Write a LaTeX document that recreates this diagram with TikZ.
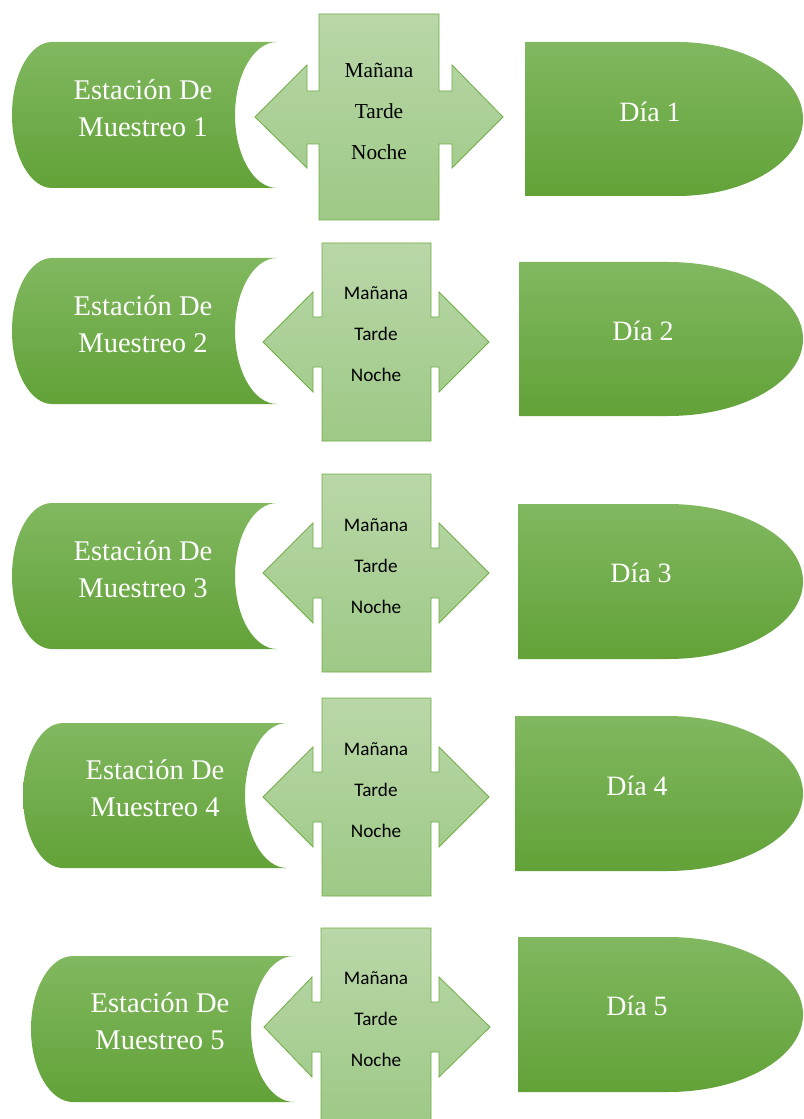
\documentclass[tikz,border=0pt]{standalone}
\usepackage{fontspec}
\setmainfont{Liberation Serif}
\newfontfamily\calibri{Carlito}
\definecolor{verdeA}{RGB}{129,184,96}
\definecolor{verdeB}{RGB}{98,162,56}
\definecolor{cruzA}{RGB}{185,215,168}
\definecolor{cruzB}{RGB}{158,201,134}
\definecolor{cruzLinea}{RGB}{112,173,71}
\begin{document}
\begin{tikzpicture}[
    x=0.75pt,
    y=-0.75pt,
    forma/.style={top color=verdeA, bottom color=verdeB, draw=none},
    cruz/.style={top color=cruzA, bottom color=cruzB, draw=cruzLinea, line width=0.6pt, line join=miter},
    esttxt/.style={text=white, align=center, font=\fontsize{21.4}{27.4}\selectfont},
    diatxt/.style={text=white, font=\fontsize{21}{25}\selectfont},
    turnotxt/.style={align=center, font=\calibri\fontsize{14.4}{30.75}\selectfont},
    turnotxtA/.style={align=center, font=\fontsize{16}{30.75}\selectfont}
]
\useasboundingbox (0,0) rectangle (803,1119);

% fila 1
\path[forma] (52,42) -- (277,42) arc[start angle=270, end angle=90, x radius=42, y radius=73]
    -- (52,188) arc[start angle=90, end angle=270, x radius=40, y radius=73] -- cycle;
\path[cruz] (255,117) -- ++(52,-52) -- ++(0,26) -- ++(12,0) -- ++(0,-77) -- ++(120,0) -- ++(0,77)
    -- ++(13,0) -- ++(0,-26) -- ++(51,52) -- ++(-51,51) -- ++(0,-24) -- ++(-13,0) -- ++(0,76)
    -- ++(-120,0) -- ++(0,-76) -- ++(-12,0) -- ++(0,24) -- cycle;
\path[forma] (525,42) -- (677,42) arc[start angle=270, end angle=450, x radius=126, y radius=77]
    -- (525,196) -- cycle;
\node[esttxt] (est1) at (143,108) {Estación De\\Muestreo 1};
\node[turnotxtA] (turno1) at (379,111) {Mañana\\Tarde\\Noche};
\node[diatxt] (dia1) at (650,112) {Día 1};

% fila 2
\path[forma] (52,258) -- (277,258) arc[start angle=270, end angle=90, x radius=42, y radius=73]
    -- (52,404) arc[start angle=90, end angle=270, x radius=40, y radius=73] -- cycle;
\path[cruz] (263,342) -- ++(50,-50) -- ++(0,25) -- ++(9,0) -- ++(0,-74) -- ++(109,0) -- ++(0,74)
    -- ++(8,0) -- ++(0,-25) -- ++(50,50) -- ++(-50,50) -- ++(0,-25) -- ++(-8,0) -- ++(0,74)
    -- ++(-109,0) -- ++(0,-74) -- ++(-9,0) -- ++(0,25) -- cycle;
\path[forma] (519,262) -- (668,262) arc[start angle=270, end angle=450, x radius=135, y radius=77]
    -- (519,416) -- cycle;
\node[esttxt] (est2) at (143,324) {Estación De\\Muestreo 2};
\node[turnotxt] (turno2) at (376,334) {Mañana\\Tarde\\Noche};
\node[diatxt] (dia2) at (643,331) {Día 2};

% fila 3
\path[forma] (52,503) -- (277,503) arc[start angle=270, end angle=90, x radius=42, y radius=73]
    -- (52,649) arc[start angle=90, end angle=270, x radius=40, y radius=73] -- cycle;
\path[cruz] (263,573) -- ++(50,-50) -- ++(0,25) -- ++(9,0) -- ++(0,-74) -- ++(109,0) -- ++(0,74)
    -- ++(8,0) -- ++(0,-25) -- ++(50,50) -- ++(-50,50) -- ++(0,-25) -- ++(-8,0) -- ++(0,74)
    -- ++(-109,0) -- ++(0,-74) -- ++(-9,0) -- ++(0,25) -- cycle;
\path[forma] (518,504) -- (668,504) arc[start angle=270, end angle=450, x radius=135, y radius=77.5]
    -- (518,659) -- cycle;
\node[esttxt] (est3) at (143,569) {Estación De\\Muestreo 3};
\node[turnotxt] (turno3) at (376,566) {Mañana\\Tarde\\Noche};
\node[diatxt] (dia3) at (641,573) {Día 3};

% fila 4
\path[forma] (63,723) -- (287,723) arc[start angle=270, end angle=90, x radius=42, y radius=72.5]
    -- (63,868) arc[start angle=90, end angle=270, x radius=40, y radius=72.5] -- cycle;
\path[cruz] (263,797) -- ++(50,-50) -- ++(0,25) -- ++(9,0) -- ++(0,-74) -- ++(109,0) -- ++(0,74)
    -- ++(8,0) -- ++(0,-25) -- ++(50,50) -- ++(-50,50) -- ++(0,-25) -- ++(-8,0) -- ++(0,74)
    -- ++(-109,0) -- ++(0,-74) -- ++(-9,0) -- ++(0,25) -- cycle;
\path[forma] (515,716) -- (667,716) arc[start angle=270, end angle=450, x radius=136, y radius=77.5]
    -- (515,871) -- cycle;
\node[esttxt] (est4) at (155,788) {Estación De\\Muestreo 4};
\node[turnotxt] (turno4) at (376,790) {Mañana\\Tarde\\Noche};
\node[diatxt] (dia4) at (637,786) {Día 4};

% fila 5
\path[forma] (73,956) -- (294,956) arc[start angle=270, end angle=90, x radius=43, y radius=73]
    -- (73,1102) arc[start angle=90, end angle=270, x radius=42, y radius=73] -- cycle;
\path[cruz] (264,1027) -- ++(48,-50) -- ++(0,25) -- ++(9,0) -- ++(0,-74) -- ++(110,0) -- ++(0,74)
    -- ++(8,0) -- ++(0,-25) -- ++(51,50) -- ++(-51,50) -- ++(0,-25) -- ++(-8,0) -- ++(0,74)
    -- ++(-110,0) -- ++(0,-74) -- ++(-9,0) -- ++(0,25) -- cycle;
\path[forma] (518,937) -- (668,937) arc[start angle=270, end angle=450, x radius=135, y radius=77.5]
    -- (518,1092) -- cycle;
\node[esttxt] (est5) at (160,1021) {Estación De\\Muestreo 5};
\node[turnotxt] (turno5) at (376,1019) {Mañana\\Tarde\\Noche};
\node[diatxt] (dia5) at (637,1006) {Día 5};
\end{tikzpicture}
\end{document}
